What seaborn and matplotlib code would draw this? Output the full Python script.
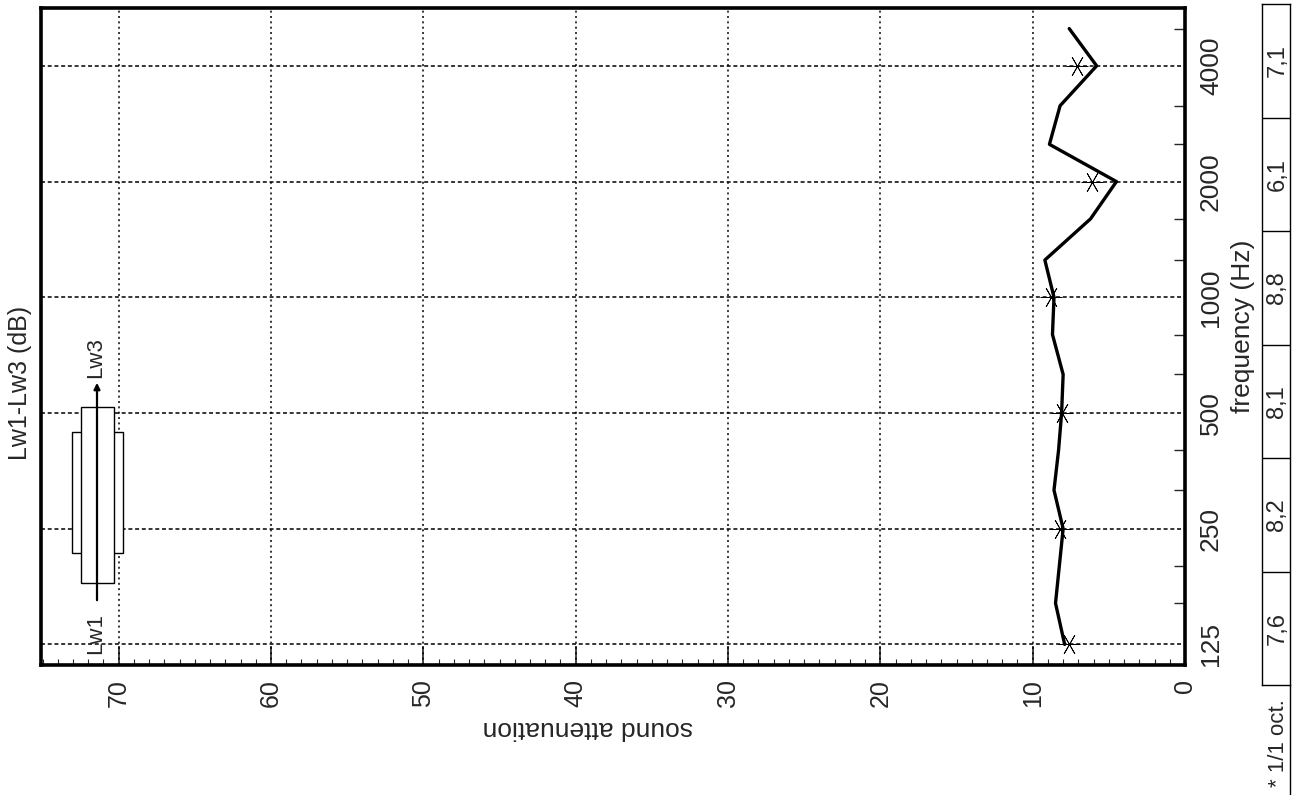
import matplotlib
matplotlib.use("Agg")
import matplotlib.pyplot as plt
import seaborn as sns
import numpy as np
import pandas as pd
from matplotlib.ticker import FixedLocator, NullFormatter, MultipleLocator
from matplotlib.patches import Rectangle
from matplotlib.lines import Line2D

# ---------------- data ----------------
third_octave_freqs = [125, 160, 200, 250, 315, 400, 500, 630, 800, 1000,
                      1250, 1600, 2000, 2500, 3150, 4000, 5000]
third_octave_atten = [7.9, 8.5, 8.25, 8.0, 8.6, 8.3, 8.1, 8.0, 8.7, 8.6,
                      9.2, 6.2, 4.5, 8.9, 8.2, 5.8, 7.6]
octave_freqs = [125, 250, 500, 1000, 2000, 4000]
octave_atten = [7.6, 8.2, 8.1, 8.8, 6.1, 7.1]
octave_tick_labels = ["125", "250", "500", "1000", "2000", "4000"]
atten_ticks = [0, 10, 20, 30, 40, 50, 60, 70]
minor_freqs = [160, 200, 315, 400, 630, 800, 1250, 1600, 2500, 3150, 5000]

sns.set_style("ticks")
plt.rcParams['font.family'] = ['Liberation Sans', 'DejaVu Sans']

W, H = 1292, 795
fig = plt.figure(figsize=(W / 100, H / 100), dpi=100)
fig.patch.set_facecolor("white")

# axes in pixel geometry
L, R, T, B = 41, 1185, 8, 665
ax = fig.add_axes([L / W, 1 - B / H, (R - L) / W, (B - T) / H])
ax.set_facecolor("white")

df = pd.DataFrame({"atten": third_octave_atten, "freq": third_octave_freqs})
dfo = pd.DataFrame({"atten": octave_atten, "freq": octave_freqs})

ax.set_yscale("log")
sns.lineplot(data=df, x="atten", y="freq", sort=False, estimator=None,
             color="black", lw=2.4, ax=ax)
sns.scatterplot(data=dfo, x="atten", y="freq", marker=(6, 2, 90), s=230,
                color="black", linewidth=0.6, ax=ax, zorder=5)

ax.set_xlim(75.1, 0)
ax.set_ylim(110.5, 5657)

# grid
for v in atten_ticks[1:]:
    ax.axvline(v, color="black", lw=1.1, ls=(0, (1.3, 2.2)), zorder=1)
for f in octave_freqs:
    ax.axhline(f, color="black", lw=1.1, ls=(0, (2.6, 1.8)), zorder=1)

# x ticks (sound attenuation)
ax.set_xticks(atten_ticks)
ax.set_xticklabels([str(v) for v in atten_ticks])
ax.xaxis.set_minor_locator(MultipleLocator(1))
ax.tick_params(axis="x", which="major", direction="in", length=14, width=1.2,
               labelsize=18, labelrotation=90, pad=10, bottom=True, top=False)
ax.tick_params(axis="x", which="minor", direction="in", length=4, width=0.8,
               bottom=True, top=False)

# y ticks (frequency) on right
ax.yaxis.tick_right()
ax.yaxis.set_major_locator(FixedLocator(octave_freqs))
ax.set_yticklabels(octave_tick_labels)
ax.yaxis.set_minor_locator(FixedLocator(minor_freqs))
ax.yaxis.set_minor_formatter(NullFormatter())
ax.tick_params(axis="y", which="major", direction="in", length=0,
               labelsize=19, labelrotation=90, pad=10, right=True, left=False)
ax.tick_params(axis="y", which="minor", direction="in", length=8, width=1.0,
               right=True, left=False)
for lbl in ax.get_yticklabels():
    lbl.set_verticalalignment("center")

for sp in ax.spines.values():
    sp.set_linewidth(2.6)
    sp.set_color("black")
    sp.set_visible(True)

# labels
ax.set_xlabel("sound attenuation", fontsize=19, rotation=180)
ax.xaxis.set_label_coords((588 - L) / (R - L), (B - 728) / (B - T))
ax.xaxis.label.set_va("center")
ax.set_ylabel("frequency (Hz)", fontsize=19, rotation=90)
ax.yaxis.set_label_position("right")
ax.yaxis.set_label_coords((1243 - L) / (R - L), (B - 326) / (B - T))
ax.yaxis.label.set_va("center")
ax.yaxis.label.set_ha("center")

ax.text((20 - L) / (R - L), (B - 383) / (B - T), "Lw1-Lw3 (dB)",
        transform=ax.transAxes, rotation=90, fontsize=18,
        ha="center", va="center")

# silencer sketch (legend-like diagram), axes fraction coordinates
def fx(px):
    return (px - L) / (R - L)

def fy(py):
    return (B - py) / (B - T)

ax.add_patch(Rectangle((fx(72), fy(553)), fx(123) - fx(72), fy(432) - fy(553),
                       transform=ax.transAxes, facecolor="white",
                       edgecolor="black", lw=1.0, zorder=6))
ax.add_patch(Rectangle((fx(81), fy(583)), fx(114) - fx(81), fy(407) - fy(583),
                       transform=ax.transAxes, facecolor="white",
                       edgecolor="black", lw=1.0, zorder=7))
ax.annotate("", xy=(fx(97), fy(380)), xytext=(fx(97), fy(603)),
            xycoords="axes fraction", textcoords="axes fraction",
            arrowprops=dict(arrowstyle="-|>", color="black", lw=1.6,
                            mutation_scale=9), zorder=8)
ax.text(fx(96), fy(634), "Lw1", transform=ax.transAxes, rotation=90,
        fontsize=16, ha="center", va="center", zorder=8)
ax.text(fx(96), fy(358), "Lw3", transform=ax.transAxes, rotation=90,
        fontsize=16, ha="center", va="center", zorder=8)

# octave value table on the far right
tL, tR, tT, tB = 1262, 1290, 4, 685
tab = fig.add_axes([tL / W, 1 - tB / H, (tR - tL) / W, (tB - tT) / H])
tab.set_xlim(0, 1)
tab.set_ylim(0, len(octave_atten))
tab.set_xticks([])
tab.set_yticks([])
for sp in tab.spines.values():
    sp.set_linewidth(1.0)
    sp.set_color("black")
for i in range(1, len(octave_atten)):
    tab.axhline(i, color="black", lw=1.0)
for i, v in enumerate(octave_atten):
    tab.text(0.55, i + 0.5, f"{v:.1f}".replace(".", ","), rotation=90,
             fontsize=17, ha="center", va="center")
fig.add_artist(Line2D([tR / W, tR / W], [0, 1 - tB / H], color="black", lw=1.0))
fig.text(1278 / W, 1 - 743 / H, "* 1/1 oct.", rotation=90, fontsize=16,
         ha="center", va="center")

fig.savefig("out.png", dpi=100, facecolor="white")
